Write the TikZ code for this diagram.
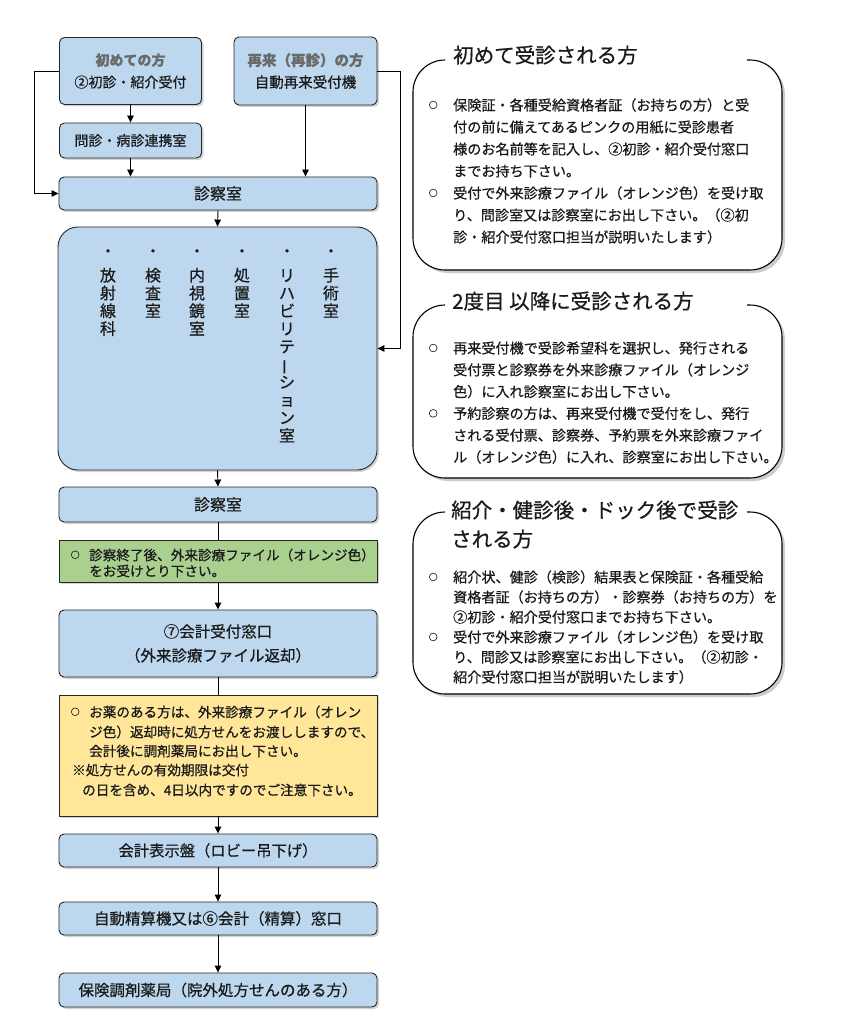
\documentclass[tikz,border=0pt]{standalone}
\usepackage{fontspec}
\setmainfont{Noto Sans CJK JP}[FakeBold=0.6]
\usetikzlibrary{arrows.meta,shadows}
\definecolor{boxblue}{HTML}{BDD7EE}
\definecolor{boxgreen}{HTML}{A9D08E}
\definecolor{boxyellow}{HTML}{FFE699}
\definecolor{txt}{HTML}{1A1A1A}
\definecolor{graytxt}{HTML}{6A6A6A}
\newcommand\jfs[2]{\fontsize{#1}{#2}\selectfont}
\newcommand\pbul[1]{\llap{\raisebox{2pt}{\jfs{9}{9}○}\hspace{#1}}}
\newcommand\vstart{\rule{0pt}{13.6pt}}
\newcommand\vbar{\rotatebox[origin=c]{90}{ー}}
\tikzset{
  bluebox/.style={draw=black!85, line width=0.9pt, fill=boxblue, rounded corners=5pt,
    drop shadow={shadow xshift=2pt, shadow yshift=-2pt, opacity=0.35}, inner sep=0pt,
    minimum width=318pt, text=txt, align=center},
  flatbox/.style={draw=black!85, line width=0.9pt, inner sep=0pt, minimum width=318pt,
    drop shadow={shadow xshift=2pt, shadow yshift=-2pt, opacity=0.35}},
  arr/.style={draw=black, line width=0.9pt, -{Triangle[length=7pt,width=6.5pt]}},
  ln/.style={draw=black, line width=0.9pt},
  panel/.style={draw=black, line width=1.1pt, fill=white, rounded corners=32pt,
    drop shadow={shadow xshift=3pt, shadow yshift=-3pt, opacity=0.4}},
  ptext/.style={anchor=base west, inner sep=0pt, font=\jfs{14.1}{14.1}, text=txt},
  ttext/.style={anchor=base west, inner sep=0pt, font=\jfs{20.5}{20.5}, text=txt},
  ltext/.style={anchor=base west, inner sep=0pt, font=\jfs{13.6}{13.6}, text=txt},
  vcol/.style={anchor=north, inner sep=0pt, align=center, font=\jfs{16}{17.8}, text=txt},
  vdot/.style={inner sep=0pt, font=\jfs{16}{16}, text=txt},
}
\begin{document}
\begin{tikzpicture}[x=1pt,y=-1pt]
\useasboundingbox (0,0) rectangle (842,1024);

% ---- left column boxes ----
\node[bluebox, minimum width=142pt, minimum height=67pt, font=\jfs{14}{22}] (A) at (130.5,71)
  {{\color{graytxt}\bfseries 初めての方}\\②初診・紹介受付};
\node[bluebox, minimum width=143pt, minimum height=68pt, font=\jfs{14.5}{22}] (B) at (305.5,71)
  {{\color{graytxt}\bfseries 再来（再診）の方}\\自動再来受付機};
\node[bluebox, minimum width=142pt, minimum height=35pt, font=\jfs{14}{14}] (C) at (130.5,140.5) {問診・病診連携室};
\node[bluebox, minimum height=33pt, font=\jfs{16}{16}] (D1) at (218,193.5) {診察室};
\node[bluebox, minimum width=319pt, minimum height=243pt, rounded corners=20pt] (Big) at (217.5,348.5) {};
\node[bluebox, minimum height=35pt, font=\jfs{16}{16}] (D2) at (218,504.5) {診察室};
\node[flatbox, fill=boxgreen, minimum height=42pt] (G) at (218,561) {};
\node[bluebox, minimum height=67pt, font=\jfs{15.5}{24}] (K) at (218,643.5) {⑦会計受付窓口\\（外来診療ファイル返却）};
\node[flatbox, fill=boxyellow, minimum height=121pt] (Y) at (218,755.5) {};
\node[bluebox, minimum height=33pt, font=\jfs{15.3}{15.3}] (H) at (218,850.5) {会計表示盤（ロビー吊下げ）};
\node[bluebox, minimum height=33pt, font=\jfs{15.5}{15.5}] (J) at (218,918.5) {自動精算機又は⑥会計（精算）窓口};
\node[bluebox, minimum height=34pt, font=\jfs{15.5}{15.5}] (P) at (218,990) {保険調剤薬局（院外処方せんのある方）};

% ---- vertical texts inside the big box ----
\foreach \x/\t [count=\i] in {108/{\vstart 放\\射\\線\\科}, 153/{\vstart 検\\査\\室}, 197/{\vstart 内\\視\\鏡\\室},
  242/{\vstart 処\\置\\室}, 287/{\vstart リ\\ハ\\ビ\\リ\\テ\\\vbar\\シ\\ョ\\ン\\室}, 331/{\vstart 手\\術\\室}} {
  \node[vdot] (vd\i) at (\x,253) {・};
  \node[vcol] (vc\i) at (\x,267.5) {\t};
}

% ---- green box text ----
\node[ltext] (g1) at (89,560.2) {\pbul{9.5pt}診察終了後、外来診療ファイル（オレンジ色）};
\node[ltext] (g2) at (89,576.2) {をお受けとり下さい。};

% ---- yellow box text ----
\node[ltext] (y1) at (89,717.2) {\pbul{9.5pt}お薬のある方は、外来診療ファイル（オレン};
\node[ltext] (y2) at (89,737.2) {ジ色）返却時に処方せんをお渡ししますので、};
\node[ltext] (y3) at (89,756.2) {会計後に調剤薬局にお出し下さい。};
\node[ltext] (y4) at (72,775.2) {※処方せんの有効期限は交付};
\node[ltext] (y5) at (82,795.2) {の日を含め、4日以内ですのでご注意下さい。};

% ---- connectors ----
\draw[arr] (A.west) -- ++(-24.5,0) |- (D1.west);
\draw[arr] (B.east) -- ++(23,0) |- (Big.east);
\draw[arr] (A.south) -- (C.north);
\draw[arr] (C.south) -- (C.south |- D1.north);
\draw[arr] (B.south) -- (B.south |- D1.north);
\draw[arr] (D1.south) -- (Big.north);
\draw[arr] (Big.south) -- (D2.north);
\draw[ln] (D2.south) -- (G.north);
\draw[arr] (G.south) -- (K.north);
\draw[ln] (K.south) -- (Y.north);
\draw[arr] (Y.south) -- (H.north);
\draw[arr] (H.south) -- (J.north);
\draw[arr] (J.south) -- (P.north);

% ---- right panels ----
\draw[panel] (445,60) -- (413,60) -- (413,270) -- (782,270) -- (782,60) -- (747,60);
\node[ttext] (t1) at (453,62.8) {初めて受診される方};
\foreach \t [count=\i from 0] in {{\pbul{15.5pt}保険証・各種受給資格者証（お持ちの方）と受},
  付の前に備えてあるピンクの用紙に受診患者,
  様のお名前等を記入し、②初診・紹介受付窓口,
  までお持ち下さい。,
  {\pbul{15.5pt}受付で外来診療ファイル（オレンジ色）を受け取},
  り、問診室又は診察室にお出し下さい。（②初,
  診・紹介受付窓口担当が説明いたします）} {
  \node[ptext] (pa\i) at (453,110.4+22*\i) {\t};
}

\draw[panel] (445,305) -- (413,305) -- (413,478) -- (782,478) -- (782,305) -- (747,305);
\node[ttext] (t2) at (452,308.8) {2度目 以降に受診される方};
\foreach \t [count=\i from 0] in {{\pbul{15.5pt}再来受付機で受診希望科を選択し、発行される},
  受付票と診察券を外来診療ファイル（オレンジ,
  色）に入れ診察室にお出し下さい。,
  {\pbul{15.5pt}予約診察の方は、再来受付機で受付をし、発行},
  される受付票、診察券、予約票を外来診療ファイ,
  ル（オレンジ色）に入れ、診察室にお出し下さい。} {
  \node[ptext] (pb\i) at (453,353.4+21.8*\i) {\t};
}

\draw[panel] (445,512) -- (413,512) -- (413,694) -- (782,694) -- (782,512) -- (747,512);
\node[ttext] (t3a) at (451,517.8) {紹介・健診後・ドック後で受診};
\node[ttext] (t3b) at (451,546.8) {される方};
\foreach \t [count=\i from 0] in {{\pbul{15.5pt}紹介状、健診（検診）結果表と保険証・各種受給},
  資格者証（お持ちの方）・診察券（お持ちの方）を,
  ②初診・紹介受付窓口までお持ち下さい。,
  {\pbul{15.5pt}受付で外来診療ファイル（オレンジ色）を受け取},
  り、問診又は診察室にお出し下さい。（②初診・,
  紹介受付窓口担当が説明いたします）} {
  \node[ptext] (pc\i) at (453,582.4+20*\i) {\t};
}
\end{tikzpicture}
\end{document}
